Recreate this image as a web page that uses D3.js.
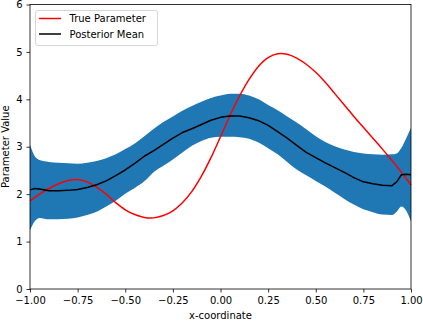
<!DOCTYPE html>
<html>
<head>
<meta charset="utf-8">
<script src="https://cdn.jsdelivr.net/npm/d3@7"></script>
<style>
  body { margin: 0; background: #fff; }
  svg { display: block; font-family: "DejaVu Sans", sans-serif; }
  .axis text { font-size: 10px; fill: #000; }
  .axis path, .axis line { stroke: #000; stroke-width: 0.8; }
</style>
</head>
<body>
<script>
// x-coordinates where everything was sampled
var xCoord = [-1.000, -0.975, -0.950, -0.900, -0.850, -0.800, -0.750, -0.700, -0.650, -0.600,
  -0.550, -0.500, -0.450, -0.400, -0.350, -0.300, -0.250, -0.200, -0.150, -0.100,
  -0.050, 0.000, 0.050, 0.100, 0.150, 0.200, 0.250, 0.300, 0.350, 0.400,
  0.450, 0.500, 0.550, 0.600, 0.650, 0.700, 0.750, 0.800, 0.850, 0.900,
  0.925, 0.950, 0.975, 1.000];

// true parameter (red)
var trueParam = [1.86, 1.93, 2.00, 2.12, 2.22, 2.29, 2.31, 2.26, 2.15, 2.00,
  1.82, 1.67, 1.57, 1.51, 1.50, 1.55, 1.65, 1.82, 2.06, 2.38,
  2.77, 3.21, 3.66, 4.07, 4.42, 4.70, 4.88, 4.96, 4.95, 4.87,
  4.74, 4.57, 4.36, 4.12, 3.88, 3.64, 3.41, 3.18, 2.95, 2.71,
  2.59, 2.46, 2.33, 2.19];

// posterior mean (black)
var postMean = [2.09, 2.12, 2.11, 2.07, 2.07, 2.08, 2.10, 2.14, 2.20, 2.28,
  2.39, 2.51, 2.65, 2.80, 2.92, 3.05, 3.18, 3.30, 3.38, 3.47,
  3.56, 3.62, 3.65, 3.65, 3.61, 3.55, 3.45, 3.32, 3.18, 3.03,
  2.88, 2.77, 2.66, 2.56, 2.46, 2.35, 2.26, 2.22, 2.19, 2.18,
  2.26, 2.41, 2.42, 2.41];

// credible band, upper and lower edges
var bandUpper = [3.04, 2.80, 2.72, 2.68, 2.66, 2.65, 2.64, 2.66, 2.70, 2.76,
  2.84, 2.95, 3.07, 3.22, 3.38, 3.52, 3.64, 3.76, 3.86, 3.95,
  4.03, 4.08, 4.12, 4.12, 4.08, 4.00, 3.88, 3.77, 3.64, 3.51,
  3.37, 3.22, 3.10, 3.01, 2.94, 2.89, 2.86, 2.84, 2.83, 2.84,
  2.86, 2.98, 3.18, 3.40];
var bandLower = [1.24, 1.43, 1.50, 1.47, 1.47, 1.48, 1.51, 1.56, 1.63, 1.74,
  1.86, 2.01, 2.13, 2.27, 2.47, 2.60, 2.73, 2.88, 3.02, 3.12,
  3.19, 3.21, 3.21, 3.20, 3.17, 3.09, 2.97, 2.84, 2.68, 2.52,
  2.40, 2.28, 2.16, 2.03, 1.90, 1.78, 1.68, 1.62, 1.57, 1.56,
  1.63, 1.74, 1.65, 1.42];

var xTicks = [-1, -0.75, -0.5, -0.25, 0, 0.25, 0.5, 0.75, 1];
var yTicks = [0, 1, 2, 3, 4, 5, 6];

var legendItems = [
  {label: "True Parameter", color: "red"},
  {label: "Posterior Mean", color: "black"}
];

//svg size and plot margins
var w = 423, h = 322;
var margin = {top: 4.5, right: 12, bottom: 33, left: 30};

var svg = d3.select("body").append("svg")
  .attr("width", w)
  .attr("height", h);

var x = d3.scaleLinear()
  .domain([-1, 1])
  .range([margin.left, w - margin.right]);

var y = d3.scaleLinear()
  .domain([0, 6])
  .range([h - margin.bottom, margin.top]);

//build rows for the line/area generators
var rows = xCoord.map(function(d, i){
  return {x: d, t: trueParam[i], m: postMean[i], lo: bandLower[i], hi: bandUpper[i]};
});

//blue band
var band = d3.area()
  .x(function(d){ return x(d.x); })
  .y0(function(d){ return y(d.lo); })
  .y1(function(d){ return y(d.hi); })
  .curve(d3.curveMonotoneX);

svg.append("path")
  .datum(rows)
  .attr("d", band)
  .style("fill", "#1f77b4");

//red true parameter line (smooth)
var trueLine = d3.line()
  .x(function(d){ return x(d.x); })
  .y(function(d){ return y(d.t); })
  .curve(d3.curveCatmullRom);

svg.append("path")
  .datum(rows)
  .attr("d", trueLine)
  .style("fill", "none")
  .style("stroke", "red")
  .style("stroke-width", 1.5);

//black posterior mean line
var meanLine = d3.line()
  .x(function(d){ return x(d.x); })
  .y(function(d){ return y(d.m); });

svg.append("path")
  .datum(rows)
  .attr("d", meanLine)
  .style("fill", "none")
  .style("stroke", "black")
  .style("stroke-width", 1.5)
  .style("stroke-linejoin", "round");

//frame
svg.append("rect")
  .attr("x", x(-1))
  .attr("y", y(6))
  .attr("width", x(1) - x(-1))
  .attr("height", y(0) - y(6))
  .style("fill", "none")
  .style("stroke", "#000")
  .style("stroke-width", 0.8);

//axes
var xAxis = d3.axisBottom(x)
  .tickValues(xTicks)
  .tickFormat(d3.format(".2f"))
  .tickSize(3.5)
  .tickPadding(4.5);

svg.append("g")
  .attr("class", "axis")
  .attr("transform", "translate(0," + y(0) + ")")
  .call(xAxis)
  .call(function(g){ g.select(".domain").remove(); });

var yAxis = d3.axisLeft(y)
  .tickValues(yTicks)
  .tickFormat(d3.format("d"))
  .tickSize(3.5)
  .tickPadding(4);

svg.append("g")
  .attr("class", "axis")
  .attr("transform", "translate(" + x(-1) + ",0)")
  .call(yAxis)
  .call(function(g){ g.select(".domain").remove(); });

svg.selectAll(".axis").attr("font-family", null).attr("font-size", null);

//axis titles
svg.append("text")
  .attr("x", (x(-1) + x(1)) / 2)
  .attr("y", 319)
  .attr("text-anchor", "middle")
  .style("font-size", "10px")
  .text("x-coordinate");

svg.append("text")
  .attr("transform", "translate(9," + (y(0) + y(6)) / 2 + ") rotate(-90)")
  .attr("text-anchor", "middle")
  .style("font-size", "10px")
  .text("Parameter Value");

//legend
var legend = svg.append("g").attr("class", "legend");

legend.append("rect")
  .attr("x", 35.5)
  .attr("y", 10.5)
  .attr("width", 122)
  .attr("height", 35)
  .attr("rx", 2.5)
  .style("fill", "#fff")
  .style("fill-opacity", 0.8)
  .style("stroke", "#ccc")
  .style("stroke-width", 0.8);

var items = legend.selectAll(".item")
  .data(legendItems)
  .enter()
  .append("g")
  .attr("class", "item")
  .attr("transform", function(d, i){ return "translate(0," + (18.5 + i * 15.5) + ")"; });

items.append("line")
  .attr("x1", 39)
  .attr("x2", 61)
  .style("stroke", function(d){ return d.color; })
  .style("stroke-width", 1.5);

items.append("text")
  .attr("x", 69.5)
  .attr("y", 3.6)
  .style("font-size", "10px")
  .text(function(d){ return d.label; });
</script>
</body>
</html>
